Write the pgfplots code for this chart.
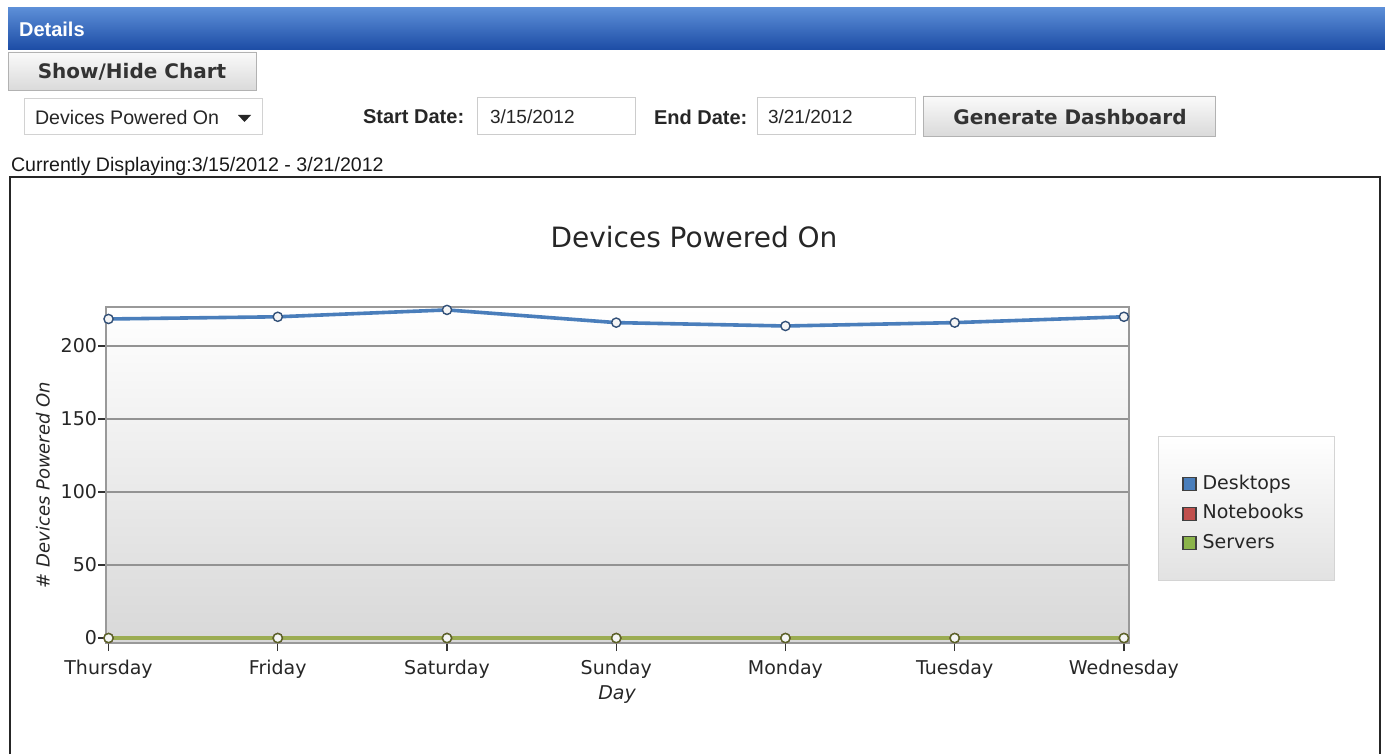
\documentclass[border=0pt]{standalone}
\usepackage{pgfplots}
\pgfplotsset{compat=1.18}
\usepackage{fontspec}
\setmainfont{DejaVu Sans}
\newfontfamily\arial{Liberation Sans}
\definecolor{cblue}{RGB}{74,126,187}
\definecolor{cblueD}{RGB}{50,80,120}
\definecolor{cred}{RGB}{192,80,77}
\definecolor{credD}{RGB}{120,50,50}
\definecolor{cgreen}{RGB}{155,172,82}
\definecolor{cgreenD}{RGB}{90,100,40}
\definecolor{hdrtop}{RGB}{92,142,215}
\definecolor{hdrbot}{RGB}{28,76,165}
\definecolor{btnbot}{RGB}{218,218,218}
\definecolor{plotbot}{RGB}{216,216,216}
\definecolor{legbot}{RGB}{226,226,226}
\definecolor{legdraw}{RGB}{212,212,212}
\begin{document}
\begin{tikzpicture}
\begin{scope}[x=0.5pt,y=-0.5pt]
\path[use as bounding box] (0,0) rectangle (1385,754);
% header
\shade[top color=hdrtop, bottom color=hdrbot] (8,8) rectangle (1385,50);
\node[anchor=west, text=white, font=\arial\bfseries\fontsize{10}{12}\selectfont] at (12,29) {Details};
% show/hide button
\shade[top color=white!96!gray, bottom color=btnbot, draw=gray!60] (8,52) rectangle (256,90);
\node[text=black!80, font=\bfseries\fontsize{10}{12}\selectfont] at (132,72) {Show/Hide Chart};
% dropdown
\draw[gray!35, fill=white] (24,98) rectangle (262,134);
\node[anchor=west, font=\arial\fontsize{9.8}{11}\selectfont, text=black!85] at (28,117) {Devices Powered On};
\fill[black!85] (238,115) -- (251,115) -- (244.5,122) -- cycle;
% dates
\node[anchor=west, font=\arial\bfseries\fontsize{10}{12}\selectfont, text=black!85] at (356,117) {Start Date:};
\draw[gray!40, fill=white] (477,97) rectangle (635,134);
\node[anchor=west, font=\arial\fontsize{9.5}{11}\selectfont, text=black!85] at (483,117) {3/15/2012};
\node[anchor=west, font=\arial\bfseries\fontsize{10}{12}\selectfont, text=black!85] at (647,117) {End Date:};
\draw[gray!40, fill=white] (757,97) rectangle (915,134);
\node[anchor=west, font=\arial\fontsize{9.5}{11}\selectfont, text=black!85] at (761,117) {3/21/2012};
\shade[top color=white!96!gray, bottom color=btnbot, draw=gray!60] (923,96) rectangle (1215,136);
\node[text=black!80, font=\bfseries\fontsize{10}{12}\selectfont] at (1070,117) {Generate Dashboard};
\node[anchor=west, font=\arial\fontsize{9.8}{11}\selectfont, text=black!90] at (4,166) {Currently Displaying:3/15/2012 - 3/21/2012};
% frame
\draw[black!85, line width=1pt] (10,754) -- (10,177) -- (1380,177) -- (1380,754);
% title and labels
\node[font=\fontsize{14}{17}\selectfont, text=black!85] at (694,237) {Devices Powered On};
\node[rotate=90, font=\itshape\fontsize{9}{11}\selectfont, text=black!85] at (43,485) {\# Devices Powered On};
\node[font=\itshape\fontsize{9.5}{11}\selectfont, text=black!85] at (617,695) {Day};
% legend box background
\shade[top color=white, bottom color=legbot, draw=legdraw] (1158,436) rectangle (1334,580);
\end{scope}
\begin{axis}[
  at={(53pt,-321.5pt)}, anchor=south west,
  scale only axis, width=511.5pt, height=168pt,
  xmin=-0.015, xmax=6.03, ymin=-3.4, ymax=226.7,
  xtick={0,...,6},
  xticklabels={Thursday,Friday,Saturday,Sunday,Monday,Tuesday,Wednesday},
  ytick={0,50,100,150,200},
  xtick pos=bottom, ytick pos=left,
  tick align=outside, major tick length=4pt,
  tick style={black!80, line width=0.7pt},
  ymajorgrids, grid style={gray!85, line width=0.7pt},
  axis line style={gray!80, line width=0.8pt},
  axis background/.style={top color=white, bottom color=plotbot},
  tick label style={font=\fontsize{9.5}{11}\selectfont, text=black!85},
  /pgf/number format/assume math mode=true,
  xticklabel style={yshift=-1pt},
  yticklabel style={xshift=3pt},
  legend style={at={(1.0518,0.509)}, anchor=north west,
    draw=none, fill=none, inner sep=0pt,
    font=\fontsize{9.5}{11}\selectfont, text=black!85,
    nodes={inner sep=1pt, text height=7.5pt, text depth=2.5pt},
    row sep=2.75pt, column sep=2pt},
  legend cell align=left,
  clip=false,
]
\addplot[cblue, line width=1.8pt, mark=*, mark size=2.3pt,
  mark options={fill=white!92!gray, draw=cblueD, line width=0.7pt},
  legend image code/.code={\draw[fill=cblue, draw=black!75, line width=0.6pt] (0pt,-3.25pt) rectangle (6.5pt,3.25pt);}]
coordinates {(0,218.5) (1,220) (2,224.7) (3,216) (4,213.7) (5,216) (6,220)};
\addlegendentry{Desktops}
\addplot[cred, line width=2.2pt, mark=*, mark size=2.3pt,
  mark options={fill=white!92!gray, draw=credD, line width=0.7pt},
  legend image code/.code={\draw[fill=cred, draw=black!75, line width=0.6pt] (0pt,-3.25pt) rectangle (6.5pt,3.25pt);}]
coordinates {(0,0) (1,0) (2,0) (3,0) (4,0) (5,0) (6,0)};
\addlegendentry{Notebooks}
\addplot[cgreen, line width=2.2pt, mark=*, mark size=2.3pt,
  mark options={fill=white!92!gray, draw=cgreenD, line width=0.7pt},
  legend image code/.code={\draw[fill=cgreen!90!green, draw=black!75, line width=0.6pt] (0pt,-3.25pt) rectangle (6.5pt,3.25pt);}]
coordinates {(0,0) (1,0) (2,0) (3,0) (4,0) (5,0) (6,0)};
\addlegendentry{Servers}
\end{axis}
\end{tikzpicture}
\end{document}
